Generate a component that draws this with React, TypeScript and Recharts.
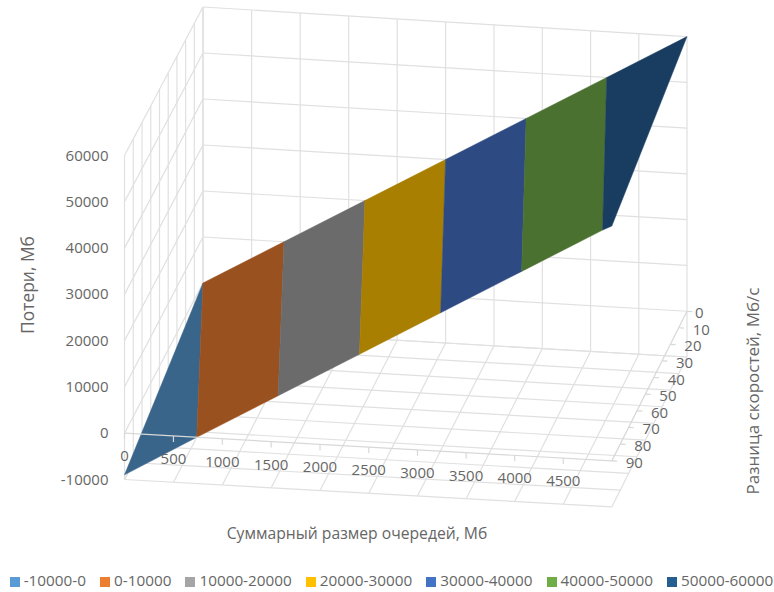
import React from 'react';
import { ScatterChart, Scatter, XAxis, YAxis, Legend } from 'recharts';

const WIDTH = 774;
const HEIGHT = 592;
const FONT = '"Open Sans", sans-serif';
const TEXT_COLOR = '#666666';
const GRID_COLOR = '#e0e0e0';
const AXIS_COLOR = '#d8d8d8';

// axis values
const sizeTicks = [0, 500, 1000, 1500, 2000, 2500, 3000, 3500, 4000, 4500, 5000];
const sizeLabels = [0, 500, 1000, 1500, 2000, 2500, 3000, 3500, 4000, 4500];
const diffTicks = [0, 10, 20, 30, 40, 50, 60, 70, 80, 90];
const lossTicks = [-10000, 0, 10000, 20000, 30000, 40000, 50000, 60000];

// surface bands
const bandNames = ['-10000-0', '0-10000', '10000-20000', '20000-30000', '30000-40000', '40000-50000', '50000-60000'];
const legendColors = ['#5b9bd5', '#ed7d31', '#a5a5a5', '#ffc000', '#4472c4', '#70ad47', '#255e91'];
const shadedColors = ['#3a658b', '#9a5120', '#6b6b6b', '#a87f00', '#2d4a83', '#4a7130', '#193d60'];

// where band borders meet the surface edge at diff = 90
const frontSizes = [0, 738, 1571, 2405, 3238, 4071, 4905, 5000];
const frontLosses = [-9000, 0, 10000, 20000, 30000, 40000, 50000, 51000];
// and at diff = 0
const backSizes = [0, 0, 833, 1667, 2500, 3333, 4167, 5000];
const backLosses = [0, 0, 10000, 20000, 30000, 40000, 50000, 60000];

const SIZE_MAX = 5000;
const DIFF_MAX = 90;
const LOSS_MIN = -10000;
const LOSS_MAX = 60000;

// box corners on screen and their perspective weights
const origin = [203, 329];
const sizeEnd = [687, 357, 1.005];
const diffEnd = [124.5, 479.5, 0.994];
const lossEnd = [203, 7, 1];

const edge = ([x, y, s]: number[]) => [s * x - origin[0], s * y - origin[1], s - 1];

const project = (size: number, diff: number, loss: number, label?: string | number) => {
  const u = size / SIZE_MAX;
  const v = diff / DIFF_MAX;
  const w = (loss - LOSS_MIN) / (LOSS_MAX - LOSS_MIN);
  const a = edge(sizeEnd);
  const b = edge(diffEnd);
  const c = edge(lossEnd);
  const hx = origin[0] + u * a[0] + v * b[0] + w * c[0];
  const hy = origin[1] + u * a[1] + v * b[1] + w * c[1];
  const hw = 1 + u * a[2] + v * b[2] + w * c[2];
  return { px: hx / hw, py: hy / hw, label };
};

const backWall = [
  ...sizeTicks.map((s) => [project(s, 0, LOSS_MIN), project(s, 0, LOSS_MAX)]),
  ...lossTicks.map((l) => [project(0, 0, l), project(SIZE_MAX, 0, l)]),
];
const sideWall = [
  ...diffTicks.map((d) => [project(0, d, LOSS_MIN), project(0, d, LOSS_MAX)]),
  ...lossTicks.map((l) => [project(0, 0, l), project(0, DIFF_MAX, l)]),
];
const floor = [
  ...sizeTicks.map((s) => [project(s, 0, LOSS_MIN), project(s, DIFF_MAX, LOSS_MIN)]),
  ...diffTicks.map((d) => [project(0, d, LOSS_MIN), project(SIZE_MAX, d, LOSS_MIN)]),
];
const gridLines = [...backWall, ...sideWall, ...floor];

const bands = bandNames.map((name, i) => ({
  name,
  points: [
    project(frontSizes[i], DIFF_MAX, frontLosses[i]),
    project(frontSizes[i + 1], DIFF_MAX, frontLosses[i + 1]),
    project(backSizes[i + 1], 0, backLosses[i + 1]),
    project(backSizes[i], 0, backLosses[i]),
    project(frontSizes[i], DIFF_MAX, frontLosses[i]),
  ],
}));

// the two axes sit in the zero plane, with short ticks
const axisLines = [
  [project(0, DIFF_MAX, 0), project(SIZE_MAX, DIFF_MAX, 0)],
  [project(SIZE_MAX, 0, 0), project(SIZE_MAX, DIFF_MAX, 0)],
  ...sizeLabels.map((s) => [project(s, DIFF_MAX, 0), project(s, DIFF_MAX, -1300)]),
  ...diffTicks.map((d) => [project(SIZE_MAX, d, 0), project(SIZE_MAX + 55, d, 0)]),
];

const sizeLabelPoints = sizeLabels.map((s) => project(s, DIFF_MAX, 0, s));
const diffLabelPoints = diffTicks.map((d) => project(SIZE_MAX, d, 0, d));
const lossLabelPoints = lossTicks.map((l) => project(0, DIFF_MAX, l, l));

const noDot = () => <g />;

const tickText = (dx: number, dy: number, anchor: 'start' | 'middle' | 'end') => (props: any) => (
  <text
    x={props.cx + (props.payload.label === 0 && anchor === 'start' ? dx - 6 : dx)}
    y={props.cy + dy}
    textAnchor={anchor}
    dominantBaseline="central"
    fontFamily={FONT}
    fontSize={15}
    fill={TEXT_COLOR}
  >
    {props.payload.label}
  </text>
);

const Title = ({ x, y, size, rotate, children }: { x: number; y: number; size: number; rotate?: number; children: string }) => (
  <text
    x={x}
    y={y}
    transform={rotate ? `rotate(${rotate} ${x} ${y})` : undefined}
    textAnchor="middle"
    dominantBaseline="central"
    fontFamily={FONT}
    fontSize={size}
    fill={TEXT_COLOR}
  >
    {children}
  </text>
);

export default function App() {
  return (
    <div style={{ position: 'absolute', left: 0, top: 0, width: WIDTH, height: HEIGHT, background: '#fff', overflow: 'hidden' }}>
      <ScatterChart width={WIDTH} height={HEIGHT} margin={{ top: 0, right: 0, bottom: 0, left: 0 }}>
        <XAxis type="number" dataKey="px" domain={[0, WIDTH]} hide />
        <YAxis type="number" dataKey="py" domain={[0, HEIGHT]} reversed hide />

        {gridLines.map((pts, i) => (
          <Scatter
            key={`grid-${i}`}
            data={pts}
            legendType="none"
            shape={noDot}
            line={{ stroke: GRID_COLOR, strokeWidth: 1.2 }}
            isAnimationActive={false}
          />
        ))}

        {bands.map((band, i) => (
          <Scatter
            key={band.name}
            name={band.name}
            data={band.points}
            fill={legendColors[i]}
            shape={noDot}
            line={{ fill: shadedColors[i], stroke: shadedColors[i], strokeWidth: 0.5 }}
            isAnimationActive={false}
          />
        ))}

        {axisLines.map((pts, i) => (
          <Scatter
            key={`axis-${i}`}
            data={pts}
            legendType="none"
            shape={noDot}
            line={{ stroke: AXIS_COLOR, strokeWidth: 1.2 }}
            isAnimationActive={false}
          />
        ))}

        <Scatter data={sizeLabelPoints} legendType="none" shape={tickText(0, 22, 'middle')} isAnimationActive={false} />
        <Scatter data={diffLabelPoints} legendType="none" shape={tickText(14, 1, 'start')} isAnimationActive={false} />
        <Scatter data={lossLabelPoints} legendType="none" shape={tickText(-16, -1, 'end')} isAnimationActive={false} />

        <Title x={27} y={285} size={17.4} rotate={-90}>Потери, Мб</Title>
        <Title x={357} y={533} size={15.7}>Суммарный размер очередей, Мб</Title>
        <Title x={752} y={391} size={17} rotate={-90}>Разница скоростей, Мб/с</Title>

        <Legend
          layout="horizontal"
          align="center"
          verticalAlign="middle"
          iconType="square"
          iconSize={10}
          wrapperStyle={{ left: 3.5, top: 570, width: 790, fontFamily: FONT, fontSize: 15.3 }}
          formatter={(value: string) => <span style={{ color: TEXT_COLOR, paddingRight: 4 }}>{value}</span>}
        />
      </ScatterChart>
    </div>
  );
}
